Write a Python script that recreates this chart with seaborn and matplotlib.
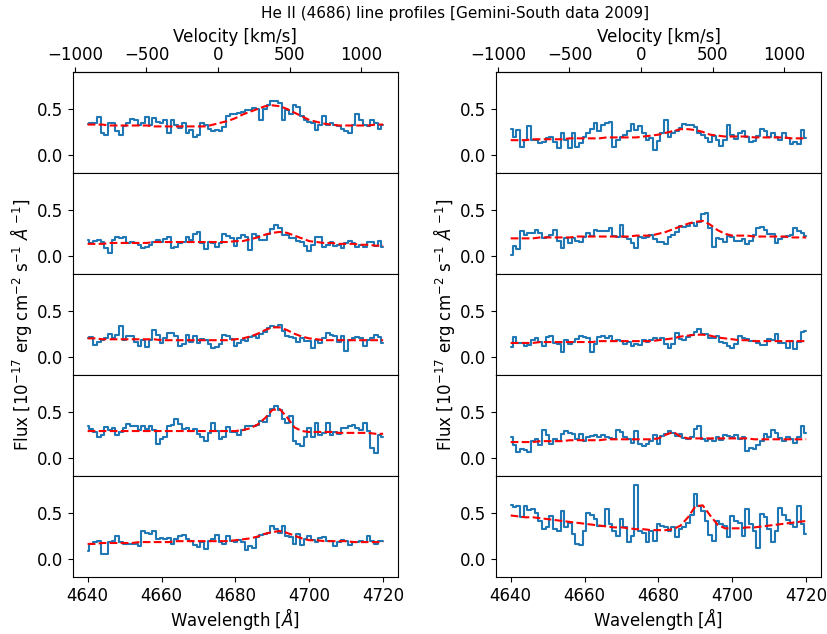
import numpy as np
import pandas as pd
import matplotlib
matplotlib.use('Agg')
import matplotlib.pyplot as plt
import seaborn as sns

# wavelength grids (Angstrom) for the spectra and the fitted models
wave = np.arange(4640, 4721, 1.0)
fit_wave = np.arange(4640, 4721, 2.0)

# left column, panels top to bottom
left_1_flux = [0.34, 0.35, 0.35, 0.41, 0.24, 0.22, 0.35, 0.35, 0.26, 0.22,
               0.31, 0.35, 0.39, 0.38, 0.33, 0.35, 0.41, 0.33, 0.40, 0.36,
               0.35, 0.38, 0.24, 0.38, 0.33, 0.29, 0.35, 0.24, 0.27, 0.20,
               0.22, 0.35, 0.32, 0.28, 0.26, 0.27, 0.26, 0.30, 0.42, 0.44,
               0.44, 0.46, 0.47, 0.49, 0.49, 0.51, 0.50, 0.38, 0.50, 0.54,
               0.59, 0.59, 0.57, 0.38, 0.49, 0.44, 0.54, 0.52, 0.42, 0.38,
               0.36, 0.35, 0.27, 0.33, 0.42, 0.33, 0.35, 0.33, 0.31, 0.28,
               0.26, 0.24, 0.33, 0.44, 0.38, 0.32, 0.31, 0.38, 0.35, 0.28,
               0.33]
left_1_fit = [0.33, 0.33, 0.33, 0.32, 0.32, 0.32, 0.32, 0.32, 0.32, 0.31,
              0.31, 0.31, 0.31, 0.31, 0.31, 0.31, 0.31, 0.33, 0.35, 0.37,
              0.40, 0.44, 0.47, 0.50, 0.53, 0.54, 0.53, 0.50, 0.46, 0.42,
              0.38, 0.36, 0.34, 0.33, 0.32, 0.32, 0.32, 0.32, 0.32, 0.33,
              0.33]

left_2_flux = [0.17, 0.14, 0.16, 0.17, 0.15, 0.09, 0.03, 0.17, 0.21, 0.19,
               0.20, 0.14, 0.15, 0.14, 0.12, 0.08, 0.10, 0.12, 0.15, 0.17,
               0.15, 0.18, 0.21, 0.08, 0.10, 0.14, 0.15, 0.21, 0.17, 0.24,
               0.26, 0.14, 0.07, 0.15, 0.14, 0.10, 0.14, 0.24, 0.22, 0.19,
               0.11, 0.19, 0.23, 0.21, 0.06, 0.24, 0.22, 0.17, 0.17, 0.24,
               0.29, 0.34, 0.30, 0.23, 0.23, 0.19, 0.19, 0.16, 0.15, 0.11,
               0.05, 0.12, 0.21, 0.21, 0.10, 0.12, 0.15, 0.11, 0.12, 0.09,
               0.14, 0.16, 0.14, 0.10, 0.12, 0.10, 0.15, 0.15, 0.11, 0.16,
               0.10]
left_2_fit = [0.13, 0.13, 0.13, 0.14, 0.14, 0.14, 0.14, 0.14, 0.14, 0.15,
              0.15, 0.15, 0.15, 0.15, 0.15, 0.15, 0.15, 0.15, 0.15, 0.15,
              0.16, 0.16, 0.18, 0.20, 0.23, 0.25, 0.26, 0.25, 0.22, 0.19,
              0.16, 0.15, 0.14, 0.14, 0.13, 0.13, 0.13, 0.12, 0.12, 0.11,
              0.11]

left_3_flux = [0.20, 0.22, 0.13, 0.16, 0.18, 0.20, 0.25, 0.20, 0.24, 0.34,
               0.18, 0.23, 0.23, 0.16, 0.12, 0.18, 0.11, 0.18, 0.29, 0.24,
               0.15, 0.20, 0.26, 0.26, 0.23, 0.12, 0.14, 0.24, 0.16, 0.23,
               0.15, 0.19, 0.18, 0.14, 0.09, 0.11, 0.14, 0.24, 0.23, 0.19,
               0.12, 0.15, 0.18, 0.17, 0.22, 0.23, 0.20, 0.25, 0.27, 0.31,
               0.34, 0.32, 0.35, 0.28, 0.23, 0.22, 0.20, 0.16, 0.20, 0.17,
               0.17, 0.09, 0.18, 0.15, 0.20, 0.26, 0.24, 0.23, 0.16, 0.23,
               0.06, 0.18, 0.20, 0.22, 0.20, 0.12, 0.18, 0.20, 0.24, 0.22,
               0.15]
left_3_fit = [0.20, 0.20, 0.19, 0.19, 0.19, 0.19, 0.19, 0.19, 0.19, 0.19,
              0.18, 0.18, 0.18, 0.18, 0.18, 0.18, 0.18, 0.18, 0.18, 0.18,
              0.19, 0.20, 0.22, 0.25, 0.29, 0.32, 0.32, 0.29, 0.25, 0.22,
              0.20, 0.19, 0.18, 0.18, 0.18, 0.18, 0.18, 0.18, 0.18, 0.18,
              0.18]

left_4_flux = [0.34, 0.31, 0.28, 0.23, 0.25, 0.33, 0.30, 0.32, 0.25, 0.28,
               0.32, 0.37, 0.35, 0.34, 0.30, 0.34, 0.31, 0.34, 0.30, 0.15,
               0.20, 0.23, 0.34, 0.36, 0.42, 0.37, 0.31, 0.32, 0.29, 0.31,
               0.26, 0.22, 0.18, 0.27, 0.38, 0.29, 0.20, 0.23, 0.33, 0.28,
               0.28, 0.25, 0.30, 0.34, 0.34, 0.34, 0.36, 0.40, 0.39, 0.45,
               0.53, 0.56, 0.52, 0.42, 0.38, 0.45, 0.18, 0.15, 0.13, 0.23,
               0.32, 0.22, 0.38, 0.25, 0.27, 0.38, 0.25, 0.28, 0.26, 0.32,
               0.32, 0.34, 0.36, 0.32, 0.30, 0.38, 0.29, 0.11, 0.05, 0.25,
               0.23]
left_4_fit = [0.29, 0.29, 0.29, 0.29, 0.29, 0.29, 0.29, 0.29, 0.29, 0.29,
              0.29, 0.29, 0.29, 0.29, 0.29, 0.29, 0.29, 0.29, 0.29, 0.29,
              0.29, 0.30, 0.32, 0.36, 0.43, 0.52, 0.53, 0.44, 0.33, 0.29,
              0.28, 0.28, 0.28, 0.28, 0.27, 0.27, 0.27, 0.27, 0.27, 0.26,
              0.26]

left_5_flux = [0.08, 0.16, 0.18, 0.19, 0.05, 0.05, 0.18, 0.19, 0.25, 0.18,
               0.16, 0.16, 0.16, 0.16, 0.14, 0.30, 0.28, 0.27, 0.30, 0.21,
               0.22, 0.21, 0.22, 0.16, 0.21, 0.25, 0.26, 0.21, 0.19, 0.15,
               0.13, 0.18, 0.10, 0.19, 0.21, 0.26, 0.18, 0.16, 0.25, 0.19,
               0.18, 0.20, 0.18, 0.09, 0.14, 0.12, 0.23, 0.26, 0.27, 0.28,
               0.35, 0.32, 0.28, 0.36, 0.25, 0.23, 0.16, 0.27, 0.15, 0.21,
               0.25, 0.20, 0.18, 0.22, 0.23, 0.19, 0.19, 0.14, 0.18, 0.20,
               0.19, 0.15, 0.18, 0.18, 0.19, 0.18, 0.25, 0.19, 0.16, 0.19,
               0.19]
left_5_fit = [0.16, 0.16, 0.17, 0.17, 0.17, 0.17, 0.17, 0.18, 0.18, 0.18,
              0.18, 0.18, 0.19, 0.19, 0.19, 0.19, 0.19, 0.19, 0.19, 0.19,
              0.20, 0.21, 0.22, 0.24, 0.27, 0.29, 0.30, 0.28, 0.25, 0.22,
              0.20, 0.20, 0.19, 0.19, 0.19, 0.19, 0.18, 0.18, 0.18, 0.18,
              0.18]

# right column, panels top to bottom
right_1_flux = [0.28, 0.20, 0.27, 0.09, 0.16, 0.31, 0.16, 0.16, 0.13, 0.14,
                0.18, 0.20, 0.14, 0.08, 0.24, 0.16, 0.07, 0.24, 0.09, 0.13,
                0.20, 0.24, 0.28, 0.35, 0.26, 0.33, 0.35, 0.36, 0.09, 0.16,
                0.20, 0.22, 0.26, 0.34, 0.27, 0.31, 0.24, 0.16, 0.18, 0.05,
                0.15, 0.24, 0.38, 0.20, 0.24, 0.26, 0.29, 0.34, 0.33, 0.32,
                0.30, 0.24, 0.22, 0.18, 0.14, 0.21, 0.16, 0.10, 0.16, 0.33,
                0.22, 0.17, 0.24, 0.26, 0.19, 0.14, 0.15, 0.21, 0.28, 0.26,
                0.19, 0.24, 0.20, 0.16, 0.24, 0.18, 0.12, 0.14, 0.12, 0.27,
                0.18]
right_1_fit = [0.16, 0.16, 0.16, 0.17, 0.17, 0.17, 0.17, 0.17, 0.18, 0.18,
               0.18, 0.18, 0.18, 0.19, 0.19, 0.19, 0.19, 0.19, 0.20, 0.21,
               0.22, 0.24, 0.26, 0.28, 0.28, 0.27, 0.25, 0.22, 0.21, 0.20,
               0.20, 0.20, 0.20, 0.19, 0.19, 0.19, 0.19, 0.19, 0.18, 0.18,
               0.18]

right_2_flux = [0.01, 0.11, 0.07, 0.27, 0.23, 0.25, 0.25, 0.28, 0.25, 0.19,
                0.20, 0.23, 0.28, 0.16, 0.08, 0.19, 0.14, 0.19, 0.16, 0.15,
                0.20, 0.25, 0.22, 0.28, 0.27, 0.27, 0.27, 0.30, 0.22, 0.21,
                0.34, 0.21, 0.18, 0.14, 0.09, 0.21, 0.19, 0.21, 0.23, 0.18,
                0.15, 0.15, 0.13, 0.20, 0.23, 0.26, 0.33, 0.31, 0.33, 0.36,
                0.33, 0.37, 0.45, 0.47, 0.30, 0.10, 0.19, 0.18, 0.15, 0.22,
                0.21, 0.16, 0.16, 0.18, 0.13, 0.16, 0.23, 0.30, 0.31, 0.28,
                0.24, 0.24, 0.14, 0.18, 0.20, 0.22, 0.23, 0.30, 0.27, 0.25,
                0.22]
right_2_fit = [0.19, 0.19, 0.19, 0.19, 0.20, 0.20, 0.20, 0.20, 0.20, 0.21,
               0.21, 0.21, 0.21, 0.21, 0.21, 0.21, 0.21, 0.22, 0.22, 0.22,
               0.24, 0.26, 0.29, 0.32, 0.35, 0.37, 0.38, 0.34, 0.28, 0.24,
               0.22, 0.22, 0.22, 0.21, 0.21, 0.21, 0.21, 0.21, 0.20, 0.20,
               0.20]

right_3_flux = [0.11, 0.22, 0.15, 0.15, 0.12, 0.13, 0.18, 0.20, 0.16, 0.12,
                0.22, 0.23, 0.15, 0.14, 0.05, 0.18, 0.14, 0.16, 0.19, 0.23,
                0.22, 0.20, 0.05, 0.14, 0.22, 0.23, 0.20, 0.23, 0.17, 0.18,
                0.17, 0.14, 0.16, 0.12, 0.14, 0.13, 0.18, 0.16, 0.18, 0.20,
                0.18, 0.20, 0.14, 0.09, 0.14, 0.26, 0.19, 0.18, 0.22, 0.24,
                0.27, 0.30, 0.25, 0.25, 0.20, 0.20, 0.23, 0.16, 0.15, 0.12,
                0.10, 0.14, 0.23, 0.20, 0.19, 0.17, 0.17, 0.15, 0.13, 0.13,
                0.19, 0.18, 0.25, 0.15, 0.15, 0.09, 0.17, 0.08, 0.16, 0.27,
                0.28]
right_3_fit = [0.15, 0.15, 0.15, 0.15, 0.16, 0.16, 0.16, 0.16, 0.16, 0.16,
               0.16, 0.16, 0.17, 0.17, 0.17, 0.17, 0.17, 0.17, 0.17, 0.17,
               0.18, 0.19, 0.20, 0.22, 0.23, 0.24, 0.24, 0.23, 0.21, 0.20,
               0.19, 0.18, 0.18, 0.17, 0.17, 0.17, 0.17, 0.17, 0.17, 0.17,
               0.17]

right_4_flux = [0.22, 0.14, 0.06, 0.09, 0.08, 0.06, 0.18, 0.20, 0.14, 0.30,
                0.25, 0.15, 0.20, 0.18, 0.26, 0.29, 0.27, 0.26, 0.20, 0.26,
                0.18, 0.22, 0.24, 0.25, 0.23, 0.25, 0.22, 0.21, 0.20, 0.30,
                0.28, 0.22, 0.20, 0.16, 0.29, 0.15, 0.13, 0.15, 0.18, 0.25,
                0.15, 0.24, 0.26, 0.29, 0.27, 0.24, 0.26, 0.21, 0.20, 0.22,
                0.31, 0.35, 0.20, 0.18, 0.20, 0.18, 0.23, 0.19, 0.25, 0.24,
                0.22, 0.25, 0.20, 0.23, 0.07, 0.11, 0.09, 0.14, 0.18, 0.26,
                0.22, 0.30, 0.27, 0.21, 0.18, 0.22, 0.20, 0.16, 0.22, 0.35,
                0.27]
right_4_fit = [0.17, 0.17, 0.17, 0.17, 0.18, 0.18, 0.18, 0.18, 0.19, 0.19,
               0.19, 0.19, 0.19, 0.20, 0.20, 0.20, 0.20, 0.20, 0.20, 0.20,
               0.21, 0.25, 0.28, 0.23, 0.21, 0.21, 0.21, 0.21, 0.21, 0.21,
               0.21, 0.21, 0.21, 0.20, 0.20, 0.20, 0.20, 0.20, 0.20, 0.20,
               0.20]

right_5_flux = [0.58, 0.56, 0.57, 0.45, 0.57, 0.53, 0.54, 0.50, 0.41, 0.32,
                0.34, 0.46, 0.32, 0.30, 0.52, 0.34, 0.39, 0.27, 0.16, 0.15,
                0.30, 0.50, 0.47, 0.43, 0.35, 0.36, 0.54, 0.38, 0.30, 0.25,
                0.43, 0.34, 0.18, 0.25, 0.80, 0.30, 0.28, 0.18, 0.30, 0.19,
                0.38, 0.36, 0.34, 0.30, 0.34, 0.23, 0.32, 0.34, 0.39, 0.47,
                0.70, 0.57, 0.52, 0.41, 0.26, 0.19, 0.41, 0.38, 0.35, 0.23,
                0.46, 0.41, 0.39, 0.25, 0.54, 0.38, 0.30, 0.12, 0.49, 0.45,
                0.32, 0.18, 0.30, 0.55, 0.48, 0.42, 0.38, 0.34, 0.57, 0.38,
                0.27]
right_5_fit = [0.47, 0.46, 0.45, 0.45, 0.44, 0.43, 0.42, 0.41, 0.40, 0.39,
               0.38, 0.37, 0.36, 0.35, 0.34, 0.34, 0.33, 0.32, 0.32, 0.31,
               0.31, 0.31, 0.32, 0.36, 0.45, 0.57, 0.58, 0.47, 0.37, 0.33,
               0.33, 0.33, 0.34, 0.34, 0.35, 0.36, 0.37, 0.38, 0.39, 0.40,
               0.41]

columns = [
    [(left_1_flux, left_1_fit), (left_2_flux, left_2_fit), (left_3_flux, left_3_fit),
     (left_4_flux, left_4_fit), (left_5_flux, left_5_fit)],
    [(right_1_flux, right_1_fit), (right_2_flux, right_2_fit), (right_3_flux, right_3_fit),
     (right_4_flux, right_4_fit), (right_5_flux, right_5_fit)],
]

# velocity scale of the top axis (km/s), zero and slope
v_zero = 4675.3
v_per_aa = 25.8


def to_vel(w):
    return (w - v_zero) * v_per_aa


def to_wave(v):
    return v / v_per_aa + v_zero


sns.set_style('ticks')
plt.rcParams['font.family'] = ['DejaVu Sans']
plt.rcParams['font.size'] = 12
plt.rcParams['text.color'] = 'black'
plt.rcParams['axes.labelcolor'] = 'black'
plt.rcParams['axes.edgecolor'] = 'black'
plt.rcParams['xtick.color'] = 'black'
plt.rcParams['ytick.color'] = 'black'

fig = plt.figure(figsize=(8.28, 6.34), dpi=100)
gs = fig.add_gridspec(5, 2, left=0.088, right=0.9915, top=0.886, bottom=0.090,
                      hspace=0, wspace=0.3015)

ylabel = r'Flux [10$^{-17}$ erg cm$^{-2}$ s$^{-1}$ $\AA$ $^{-1}$]'

for col, panels in enumerate(columns):
    for row, (flux, fit) in enumerate(panels):
        ax = fig.add_subplot(gs[row, col])
        spec = pd.DataFrame({'wave': wave, 'flux': flux})
        model = pd.DataFrame({'wave': fit_wave, 'flux': fit})
        sns.lineplot(data=spec, x='wave', y='flux', ax=ax, color='C0',
                     drawstyle='steps-mid', linewidth=1.5)
        sns.lineplot(data=model, x='wave', y='flux', ax=ax, color='red',
                     linestyle='--', linewidth=1.5)
        ax.set_xlim(4636, 4724)
        ax.set_ylim(-0.2, 0.9)
        ax.set_yticks([0.0, 0.5])
        ax.set_ylabel(ylabel if row == 2 else '', labelpad=2)
        if row < 4:
            ax.tick_params(axis='x', bottom=False, labelbottom=False)
            ax.set_xlabel('')
        else:
            ax.set_xticks([4640, 4660, 4680, 4700, 4720])
            ax.set_xlabel(r'Wavelength [$\AA$]', labelpad=1)
        if row == 0:
            secax = ax.secondary_xaxis('top', functions=(to_vel, to_wave))
            secax.set_xticks([-1000, -500, 0, 500, 1000])
            secax.tick_params(axis='x', pad=2.5)
            secax.set_xlabel('Velocity [km/s]', labelpad=3)

fig.suptitle('He II (4686) line profiles [Gemini-South data 2009]',
             fontsize=11, x=0.55, y=0.99)
fig.savefig('out.png', dpi=100)
